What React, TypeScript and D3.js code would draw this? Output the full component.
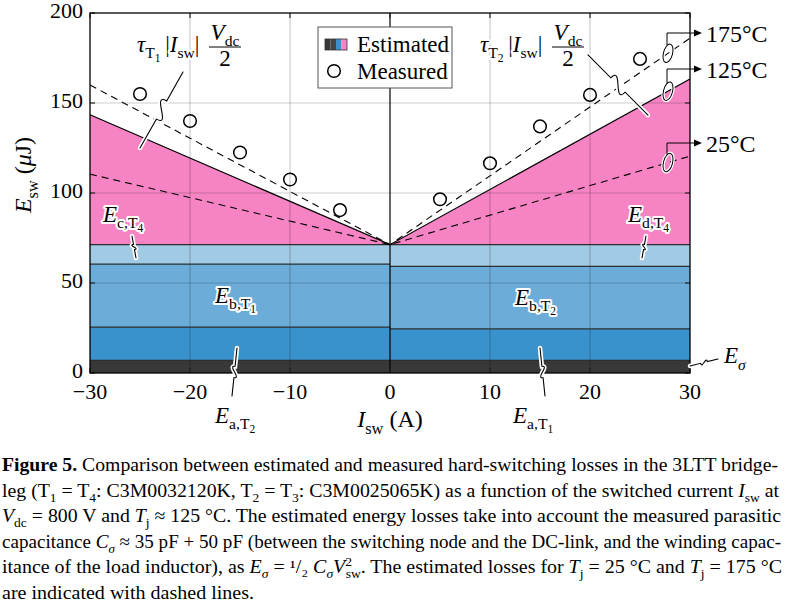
import React from "react";
import * as d3 from "d3";

// ---------- data ----------
const sideCurrents = [-30, 0, 30];
// stacked estimated layers (left: I<0 side, right: I>0 side)
const eSigmaTop = [7, 7];
const eaTop = [25.5, 24.5];
const ebTop = [60.5, 59.2];
const ebLightTop = [71.3, 71.3];
// switching-loss envelope at -30, 0, 30 A
const est125 = [143.5, 71.3, 163.3];
const est25 = [110.5, 71.3, 120.5];
const est175 = [160, 71.3, 186];
// measured
const measCurrents = [-25, -20, -15, -10, -5, 5, 10, 15, 20, 25];
const measEnergy = [155, 140, 122.5, 107.5, 90.5, 96.5, 116.5, 137, 154.5, 174.5];
const xTicks = [-30, -20, -10, 0, 10, 20, 30];
const yTicks = [0, 50, 100, 150, 200];

const W = 791, H = 603;
const x = d3.scaleLinear().domain([-30, 30]).range([90, 690]);
const y = d3.scaleLinear().domain([0, 200]).range([373, 13]);

const FONT = "Liberation Serif, DejaVu Serif, serif";
const COL = { dark: "#383838", b1: "#3a92cc", b2: "#6cacd9", b3: "#a1cae5", pink: "#f684c4" };

type Seg = { t: string; i?: boolean; b?: boolean; s?: "sub" | "sup" | "subsub"; dx?: number };
function rich(segs: Seg[], size: number) {
  let cur = 0;
  return segs.map((g, k) => {
    const target = g.s === "sub" ? 0.28 * size : g.s === "sup" ? -0.38 * size : g.s === "subsub" ? 0.45 * size : 0;
    const dy = target - cur;
    cur = target;
    const fs = g.s === "subsub" ? 0.5 * size : g.s ? 0.68 * size : size;
    return (
      <tspan key={k} dy={dy || undefined} dx={g.dx} fontSize={fs}
        fontStyle={g.i ? "italic" : undefined} fontWeight={g.b ? "bold" : undefined}>{g.t}</tspan>
    );
  });
}

function squiggle(ax: number, ay: number, bx: number, by: number, amp: number) {
  const p1 = [x(ax), y(ay)], p2 = [x(bx), y(by)];
  const dx = p2[0] - p1[0], dy = p2[1] - p1[1];
  const L = Math.hypot(dx, dy);
  const ux = dx / L, uy = dy / L, nx = -uy, ny = ux;
  const m1 = [p1[0] + dx * 0.38, p1[1] + dy * 0.38];
  const m2 = [p1[0] + dx * 0.62, p1[1] + dy * 0.62];
  const c1 = [m1[0] + nx * amp * 2, m1[1] + ny * amp * 2];
  const c2 = [m2[0] - nx * amp * 2, m2[1] - ny * amp * 2];
  return `M${p1[0]},${p1[1]} L${m1[0]},${m1[1]} C${c1[0]},${c1[1]} ${c2[0]},${c2[1]} ${m2[0]},${m2[1]} L${p2[0]},${p2[1]}`;
}

const leaders = [
  [-20.7, 167.2, -25, 125, 9],
  [19.8, 176.7, 25.8, 143.3, -9],
  [-25.8, 76.1, -25.4, 63.9, 3],
  [25.6, 76.1, 25.2, 63.9, 3],
  [-15.3, 13.9, -15.8, -12.8, 4],
  [15, 13.9, 15.5, -12.8, -4],
  [30, 3.9, 32.8, 7.8, 3],
];

const halo = { stroke: "white", strokeWidth: 4, paintOrder: "stroke" as const, strokeLinejoin: "round" as const };
const fontStyle = { fontFamily: FONT };

function Label({ xv, yv, segs, size = 23 }: { xv: number; yv: number; segs: Seg[]; size?: number }) {
  return (
    <text x={x(xv)} y={y(yv)} style={fontStyle} fontSize={size} {...halo}>{rich(segs, size)}</text>
  );
}

function Tau({ xv, tsub, fracX }: { xv: number; tsub: string; fracX: number }) {
  const bx = x(xv), by = 52, fx = x(fracX);
  return (
    <g style={fontStyle} {...halo}>
      <text x={bx} y={by} fontSize={23}>{rich([{ t: "τ", i: true }, { t: "T", s: "sub" }, { t: tsub, s: "subsub" }, { t: "\u2009|", s: undefined }, { t: "I", i: true }, { t: "sw", s: "sub" }, { t: "|" }], 23)}</text>
      <text x={fx} y={40} fontSize={23} textAnchor="middle">{rich([{ t: "V", i: true }, { t: "dc", s: "sub" }], 23)}</text>
      <line x1={fx - 16} x2={fx + 16} y1={47} y2={47} stroke="black" strokeWidth={1} />
      <text x={fx} y={66} fontSize={23} textAnchor="middle">2</text>
    </g>
  );
}

export default function App() {
  const leftX = [-30, 0], rightX = [0, 30];
  const band = (xs: number[], lo: number, hi: number) =>
    `M${x(xs[0])},${y(lo)} L${x(xs[1])},${y(lo)} L${x(xs[1])},${y(hi)} L${x(xs[0])},${y(hi)} Z`;
  const sides = [leftX, rightX];
  const line = d3.line<number>().x((_, i) => x(sideCurrents[i])).y((v) => y(v));
  const pinkArea = `M${x(-30)},${y(ebLightTop[0])} L${x(-30)},${y(est125[0])} L${x(0)},${y(est125[1])} L${x(30)},${y(est125[2])} L${x(30)},${y(ebLightTop[1])} Z`;

  const temps = [
    { label: "175°C", vals: est175, ly: 33 },
    { label: "125°C", vals: est125, ly: 69 },
    { label: "25°C", vals: est25, ly: 143 },
  ];
  const ex = 27.8;

  const caption: { segs: Seg[]; w: number }[] = [
    { segs: [{ t: "Figure 5.", b: true }, { t: " Comparison between estimated and measured hard-switching losses in the 3LTT bridge-" }], w: 776 },
    { segs: [{ t: "leg (T" }, { t: "1", s: "sub" }, { t: " = T" }, { t: "4", s: "sub" }, { t: ":  C3M0032120K, T" }, { t: "2", s: "sub" }, { t: " = T" }, { t: "3", s: "sub" }, { t: ":  C3M0025065K) as a function of the switched current " }, { t: "I", i: true }, { t: "sw", s: "sub" }, { t: " at" }], w: 777 },
    { segs: [{ t: "V", i: true }, { t: "dc", s: "sub" }, { t: " = 800 V and " }, { t: "T", i: true }, { t: "j", s: "sub" }, { t: " ≈ 125 °C. The estimated energy losses take into account the measured parasitic" }], w: 779 },
    { segs: [{ t: "capacitance " }, { t: "C", i: true }, { t: "σ", i: true, s: "sub" }, { t: " ≈ 35 pF + 50 pF (between the switching node and the DC-link, and the winding capac-" }], w: 779 },
    { segs: [{ t: "itance of the load inductor), as " }, { t: "E", i: true }, { t: "σ", i: true, s: "sub" }, { t: " = ¹/₂ " }, { t: "C", i: true }, { t: "σ", i: true, s: "sub" }, { t: "V", i: true }, { t: "2", s: "sup" }, { t: "sw", s: "sub", dx: -6 }, { t: ". The estimated losses for " }, { t: "T", i: true }, { t: "j", s: "sub" }, { t: " = 25 °C and " }, { t: "T", i: true }, { t: "j", s: "sub" }, { t: " = 175 °C" }], w: 780 },
    { segs: [{ t: "are indicated with dashed lines." }], w: 252 },
  ];

  return (
    <svg width={W} height={H} style={{ position: "absolute", left: 0, top: 0, background: "white", fontFamily: FONT }}>
      {/* stacked bands */}
      {sides.map((xs, s) => (
        <g key={s}>
          <path d={band(xs, 0, eSigmaTop[s])} fill={COL.dark} />
          <path d={band(xs, eSigmaTop[s], eaTop[s])} fill={COL.b1} />
          <path d={band(xs, eaTop[s], ebTop[s])} fill={COL.b2} />
          <path d={band(xs, ebTop[s], ebLightTop[s])} fill={COL.b3} />
        </g>
      ))}
      <path d={pinkArea} fill={COL.pink} />
      {/* grid */}
      {xTicks.filter((t) => t !== 0 && Math.abs(t) !== 30).map((t) => (
        <line key={"gx" + t} x1={x(t)} x2={x(t)} y1={y(0)} y2={y(200)} stroke="rgba(0,0,0,0.2)" strokeWidth={1.2} />
      ))}
      {yTicks.filter((t) => t !== 0 && t !== 200).map((t) => (
        <line key={"gy" + t} x1={x(-30)} x2={x(30)} y1={y(t)} y2={y(t)} stroke="rgba(0,0,0,0.2)" strokeWidth={1.2} />
      ))}
      {/* band boundaries */}
      {sides.map((xs, s) => (
        <g key={"b" + s} stroke="#2e2e2e" strokeWidth={1.2}>
          {[eSigmaTop[s], eaTop[s], ebTop[s], ebLightTop[s]].map((v, k) => (
            <line key={k} x1={x(xs[0])} x2={x(xs[1])} y1={y(v)} y2={y(v)} />
          ))}
        </g>
      ))}
      {/* estimated lines */}
      <path d={line(est125) || ""} fill="none" stroke="black" strokeWidth={1.2} />
      <path d={line(est25) || ""} fill="none" stroke="black" strokeWidth={1.1} strokeDasharray="7,5" />
      <path d={line(est175) || ""} fill="none" stroke="black" strokeWidth={1.1} strokeDasharray="7,5" />
      {/* center line */}
      <line x1={x(0)} x2={x(0)} y1={y(0)} y2={y(200)} stroke="black" strokeWidth={1.2} />
      {/* ticks */}
      {yTicks.map((t) => (
        <g key={"ty" + t} stroke="#222" strokeWidth={1.2}>
          <line x1={x(-30)} x2={x(-30) + 5} y1={y(t)} y2={y(t)} />
          <line x1={x(30)} x2={x(30) - 5} y1={y(t)} y2={y(t)} />
        </g>
      ))}
      {xTicks.map((t) => (
        <g key={"tx" + t} stroke="#222" strokeWidth={1.2}>
          <line x1={x(t)} x2={x(t)} y1={y(0)} y2={y(0) - 5} />
          <line x1={x(t)} x2={x(t)} y1={y(200)} y2={y(200) + 5} />
        </g>
      ))}
      {/* frame */}
      <rect x={x(-30)} y={y(200)} width={x(30) - x(-30)} height={y(0) - y(200)} fill="none" stroke="black" strokeWidth={1.3} />
      {/* measured */}
      {measCurrents.map((c, i) => (
        <circle key={"m" + i} cx={x(c)} cy={y(measEnergy[i])} r={6.3} fill="none" stroke="black" strokeWidth={1.5} />
      ))}
      {/* leaders */}
      {leaders.map((l, i) => {
        const d = squiggle(l[0], l[1], l[2], l[3], l[4]);
        return (
          <g key={"l" + i} fill="none" strokeLinecap="round">
            <path d={d} stroke="white" strokeWidth={4.5} />
            <path d={d} stroke="black" strokeWidth={1.1} />
          </g>
        );
      })}
      {/* temperature markers */}
      {temps.map((tp, i) => {
        const v = tp.vals[1] + ((tp.vals[2] - tp.vals[1]) * ex) / 30;
        const cx = x(ex), cy = y(v);
        return (
          <g key={"t" + i}>
            <ellipse cx={cx} cy={cy} rx={4.5} ry={9.5} transform={`rotate(15 ${cx} ${cy})`} fill="none" stroke="white" strokeWidth={3.5} />
            <ellipse cx={cx} cy={cy} rx={4.5} ry={9.5} transform={`rotate(15 ${cx} ${cy})`} fill="none" stroke="black" strokeWidth={1} />
            <path d={`M${cx - 1},${cy - 8} L${cx - 1},${tp.ly} L${x(30) + 4},${tp.ly}`} fill="none" stroke="black" strokeWidth={1} />
            <path d={`M${x(30) + 12},${tp.ly} l-8,-3.5 l0,7 Z`} fill="black" />
            <text x={x(30) + 16} y={tp.ly + 9} style={fontStyle} fontSize={24}>{tp.label}</text>
          </g>
        );
      })}
      {/* formula labels */}
      <Tau xv={-25.3} tsub="1" fracX={-16.5} />
      <Tau xv={9} tsub="2" fracX={17.8} />
      <Label xv={-28.7} yv={84} segs={[{ t: "E", i: true }, { t: "c,T", s: "sub" }, { t: "4", s: "subsub" }]} />
      <Label xv={23.8} yv={84} segs={[{ t: "E", i: true }, { t: "d,T", s: "sub" }, { t: "4", s: "subsub" }]} />
      <Label xv={-17.5} yv={39} segs={[{ t: "E", i: true }, { t: "b,T", s: "sub" }, { t: "1", s: "subsub" }]} />
      <Label xv={12.5} yv={38} segs={[{ t: "E", i: true }, { t: "b,T", s: "sub" }, { t: "2", s: "subsub" }]} />
      <Label xv={-17.5} yv={-27.5} segs={[{ t: "E", i: true }, { t: "a,T", s: "sub" }, { t: "2", s: "subsub" }]} />
      <Label xv={12.3} yv={-27.5} segs={[{ t: "E", i: true }, { t: "a,T", s: "sub" }, { t: "1", s: "subsub" }]} />
      <Label xv={33.4} yv={5.5} segs={[{ t: "E", i: true }, { t: "σ", i: true, s: "sub" }]} />
      {/* legend */}
      <g>
        <rect x={318} y={27} width={134} height={61} fill="white" stroke="#555" strokeWidth={1} />
        {[COL.dark, "#444", COL.b1, COL.pink].map((c, i) => (
          <rect key={i} x={325 + i * 5.5} y={39} width={5.5} height={11} fill={c} />
        ))}
        <rect x={325} y={39} width={22} height={11} fill="none" stroke="#333" strokeWidth={0.8} />
        <text x={357} y={52} style={fontStyle} fontSize={23}>Estimated</text>
        <circle cx={334} cy={71} r={6.3} fill="none" stroke="black" strokeWidth={1.5} />
        <text x={357} y={79} style={fontStyle} fontSize={23}>Measured</text>
      </g>
      {/* axes tick labels */}
      {xTicks.map((t) => (
        <text key={"xl" + t} x={x(t)} y={399} textAnchor="middle" style={fontStyle} fontSize={22}>{t < 0 ? "−" + Math.abs(t) : t}</text>
      ))}
      {yTicks.map((t) => (
        <text key={"yl" + t} x={83} y={y(t) + 5} textAnchor="end" style={fontStyle} fontSize={22}>{t}</text>
      ))}
      <text x={390} y={427} textAnchor="middle" style={fontStyle} fontSize={24}>{rich([{ t: "I", i: true }, { t: "sw", s: "sub" }, { t: " (A)" }], 24)}</text>
      <text transform={`translate(31,${y(110)}) rotate(-90)`} textAnchor="middle" style={fontStyle} fontSize={24}>{rich([{ t: "E", i: true }, { t: "sw", s: "sub" }, { t: " (" }, { t: "μ", i: true }, { t: "J)" }], 24)}</text>
      {/* caption */}
      {caption.map((c, i) => (
        <text key={"c" + i} x={2} y={471 + i * 25.5} style={fontStyle} fontSize={18.5} textLength={c.w} lengthAdjust="spacingAndGlyphs">{rich(c.segs, 18.5)}</text>
      ))}
    </svg>
  );
}
